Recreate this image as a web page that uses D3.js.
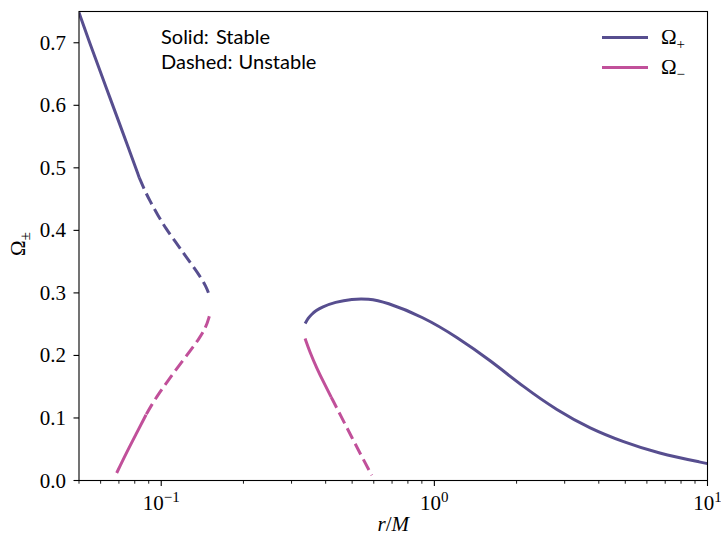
<!DOCTYPE html>
<html>
<head>
<meta charset="utf-8">
<script src="https://cdn.jsdelivr.net/npm/d3@7"></script>
<style>
  html, body { margin: 0; padding: 0; background: #fff; }
  svg { display: block; }
</style>
</head>
<body>
<svg id="chart" width="721" height="537"></svg>
<script>
// ---------------- data ----------------
const xDomain = [0.05, 10];
const yDomain = [0, 0.75];
const yTicks = [0.0, 0.1, 0.2, 0.3, 0.4, 0.5, 0.6, 0.7];
const xTickExponents = [-1, 0, 1];

// Omega_+ inner branch
const plusInnerStableR = [0.05, 0.05453, 0.0602, 0.06457, 0.07024, 0.07641, 0.0831];
const plusInnerStableW = [0.7483, 0.7016, 0.6507, 0.6147, 0.5715, 0.5283, 0.4843];
const plusInnerUnstableR = [0.0831, 0.08675, 0.0910, 0.0974, 0.1041, 0.1133, 0.1202, 0.1286, 0.1379, 0.1459, 0.1500];
const plusInnerUnstableW = [0.4843, 0.4651, 0.4467, 0.4235, 0.4027, 0.3803, 0.3646, 0.3467, 0.3283, 0.3107, 0.2963];

// Omega_- inner branch
const minusInnerStableR = [0.0687, 0.0743, 0.0809, 0.0880];
const minusInnerStableW = [0.012, 0.043, 0.0742, 0.1051];
const minusInnerUnstableR = [0.0880, 0.0918, 0.0984, 0.1071, 0.1165, 0.1286, 0.1379, 0.1459, 0.1500];
const minusInnerUnstableW = [0.1051, 0.1195, 0.1403, 0.1627, 0.1843, 0.2091, 0.2275, 0.2451, 0.2627];

// Omega_+ outer branch
const plusOuterStableR = [0.3363, 0.3449, 0.3558, 0.3691, 0.3872, 0.4331, 0.4985, 0.5735, 0.6604, 0.912, 1.208, 1.60, 2.12, 2.81, 3.72, 4.93, 6.53, 10];
const plusOuterStableW = [0.251, 0.2595, 0.266, 0.2717, 0.2774, 0.2853, 0.2904, 0.2908, 0.2858, 0.2616, 0.2296, 0.1923, 0.1496, 0.1123, 0.083, 0.0616, 0.044, 0.027];

// Omega_- outer branch
const minusOuterStableR = [0.3363, 0.3509, 0.3712, 0.3958, 0.4190];
const minusOuterStableW = [0.227, 0.2043, 0.1795, 0.1547, 0.1334];
const minusOuterUnstableR = [0.4190, 0.4584, 0.4985, 0.5424, 0.5902];
const minusOuterUnstableW = [0.1334, 0.1002, 0.0691, 0.0382, 0.0083];

const colorPlus = "#574e8f";
const colorMinus = "#c1509a";

// ---------------- layout ----------------
const W = 721, H = 537;
const margin = { left: 79, right: W - 707.5, top: 11.5, bottom: H - 480.5 };
const svg = d3.select("#chart");

const x = d3.scaleLog().domain(xDomain).range([margin.left, W - margin.right]);
const y = d3.scaleLinear().domain(yDomain).range([H - margin.bottom, margin.top]);

const serif = "'Liberation Serif', 'DejaVu Serif', serif";
const sans = "Lato, 'DejaVu Sans', sans-serif";

const line = d3.line()
  .x(d => x(d[0]))
  .y(d => y(d[1]))
  .curve(d3.curveBasis);

const zip = (a, b) => a.map((v, i) => [v, b[i]]);

const segments = [
  { r: plusInnerStableR, w: plusInnerStableW, color: colorPlus, dashed: false },
  { r: plusInnerUnstableR, w: plusInnerUnstableW, color: colorPlus, dashed: true },
  { r: minusInnerUnstableR.slice().reverse(), w: minusInnerUnstableW.slice().reverse(), color: colorMinus, dashed: true },
  { r: minusInnerStableR, w: minusInnerStableW, color: colorMinus, dashed: false },
  { r: plusOuterStableR, w: plusOuterStableW, color: colorPlus, dashed: false },
  { r: minusOuterStableR, w: minusOuterStableW, color: colorMinus, dashed: false },
  { r: minusOuterUnstableR, w: minusOuterUnstableW, color: colorMinus, dashed: true }
];

svg.append("defs").append("clipPath").attr("id", "clip")
  .append("rect")
  .attr("x", margin.left).attr("y", margin.top)
  .attr("width", W - margin.left - margin.right)
  .attr("height", H - margin.top - margin.bottom);

const g = svg.append("g").attr("clip-path", "url(#clip)");
g.selectAll("path.series")
  .data(segments)
  .join("path")
  .attr("class", "series")
  .attr("d", s => line(zip(s.r, s.w)))
  .attr("fill", "none")
  .attr("stroke", s => s.color)
  .attr("stroke-width", 3)
  .attr("stroke-linecap", "butt")
  .attr("stroke-dasharray", s => s.dashed ? "12,5.5" : null);

// ---------------- axes ----------------
const xAxisG = svg.append("g").attr("transform", `translate(0,${H - margin.bottom})`);
const minorTicks = [];
for (let e = -2; e <= 0; e++) {
  for (let m = 2; m <= 9; m++) {
    const v = m * Math.pow(10, e);
    if (v >= xDomain[0] && v <= xDomain[1]) minorTicks.push(v);
  }
}
xAxisG.selectAll("line.minor").data(minorTicks).join("line")
  .attr("class", "minor")
  .attr("x1", d => x(d)).attr("x2", d => x(d))
  .attr("y1", 0).attr("y2", 3.2)
  .attr("stroke", "#000").attr("stroke-width", 0.9);
xAxisG.selectAll("line.major").data(xTickExponents).join("line")
  .attr("class", "major")
  .attr("x1", d => x(Math.pow(10, d))).attr("x2", d => x(Math.pow(10, d)))
  .attr("y1", 0).attr("y2", 5.5)
  .attr("stroke", "#000").attr("stroke-width", 1.1);
const xl = xAxisG.selectAll("text.major").data(xTickExponents).join("text")
  .attr("class", "major")
  .attr("x", d => x(Math.pow(10, d)))
  .attr("y", 29.5)
  .attr("text-anchor", "middle")
  .attr("font-family", serif)
  .attr("font-size", 21)
  .attr("fill", "#000");
xl.append("tspan").text("10");
xl.append("tspan").attr("dy", -8).attr("font-size", 15).text(d => d < 0 ? "\u2212" + Math.abs(d) : String(d));

const yAxisG = svg.append("g").attr("transform", `translate(${margin.left},0)`);
yAxisG.selectAll("line").data(yTicks).join("line")
  .attr("x1", -5.5).attr("x2", 0)
  .attr("y1", d => y(d)).attr("y2", d => y(d))
  .attr("stroke", "#000").attr("stroke-width", 1.1);
yAxisG.selectAll("text").data(yTicks).join("text")
  .attr("x", -13)
  .attr("y", d => y(d) + 7)
  .attr("text-anchor", "end")
  .attr("font-family", serif)
  .attr("font-size", 21)
  .attr("fill", "#000")
  .text(d => d.toFixed(1));

// frame
svg.append("rect")
  .attr("x", margin.left).attr("y", margin.top)
  .attr("width", W - margin.left - margin.right)
  .attr("height", H - margin.top - margin.bottom)
  .attr("fill", "none").attr("stroke", "#000").attr("stroke-width", 1.1);

// axis labels
const xLab = svg.append("text")
  .attr("x", (margin.left + W - margin.right) / 2)
  .attr("y", 531)
  .attr("text-anchor", "middle")
  .attr("font-family", serif)
  .attr("font-size", 21)
  .attr("font-style", "italic");
xLab.append("tspan").text("r");
xLab.append("tspan").attr("font-style", "normal").text("/");
xLab.append("tspan").text("M");

const yLab = svg.append("text")
  .attr("transform", `translate(25,${(margin.top + H - margin.bottom) / 2 - 2}) rotate(-90)`)
  .attr("text-anchor", "middle")
  .attr("font-family", serif)
  .attr("font-size", 21);
yLab.append("tspan").text("\u03A9");
yLab.append("tspan").attr("dy", 5).attr("font-size", 15).text("\u00B1");

// annotation
svg.append("text").attr("x", 161).attr("y", 43.5)
  .attr("font-family", sans).attr("font-size", 20).attr("word-spacing", 2).text("Solid: Stable");
svg.append("text").attr("x", 161).attr("y", 68.5)
  .attr("font-family", sans).attr("font-size", 20).attr("word-spacing", 1).text("Dashed: Unstable");

// legend
const legendItems = [
  { label: "\u03A9", sub: "+", color: colorPlus },
  { label: "\u03A9", sub: "\u2212", color: colorMinus }
];
const lg = svg.append("g").selectAll("g").data(legendItems).join("g")
  .attr("transform", (d, i) => `translate(602,${37.5 + i * 30})`);
lg.append("line").attr("x1", 0).attr("x2", 46).attr("y1", 0).attr("y2", 0)
  .attr("stroke", d => d.color).attr("stroke-width", 3);
const lt = lg.append("text").attr("x", 59).attr("y", 6.5)
  .attr("font-family", serif).attr("font-size", 21);
lt.append("tspan").text(d => d.label);
lt.append("tspan").attr("dy", 5).attr("font-size", 15).text(d => d.sub);
</script>
</body>
</html>
